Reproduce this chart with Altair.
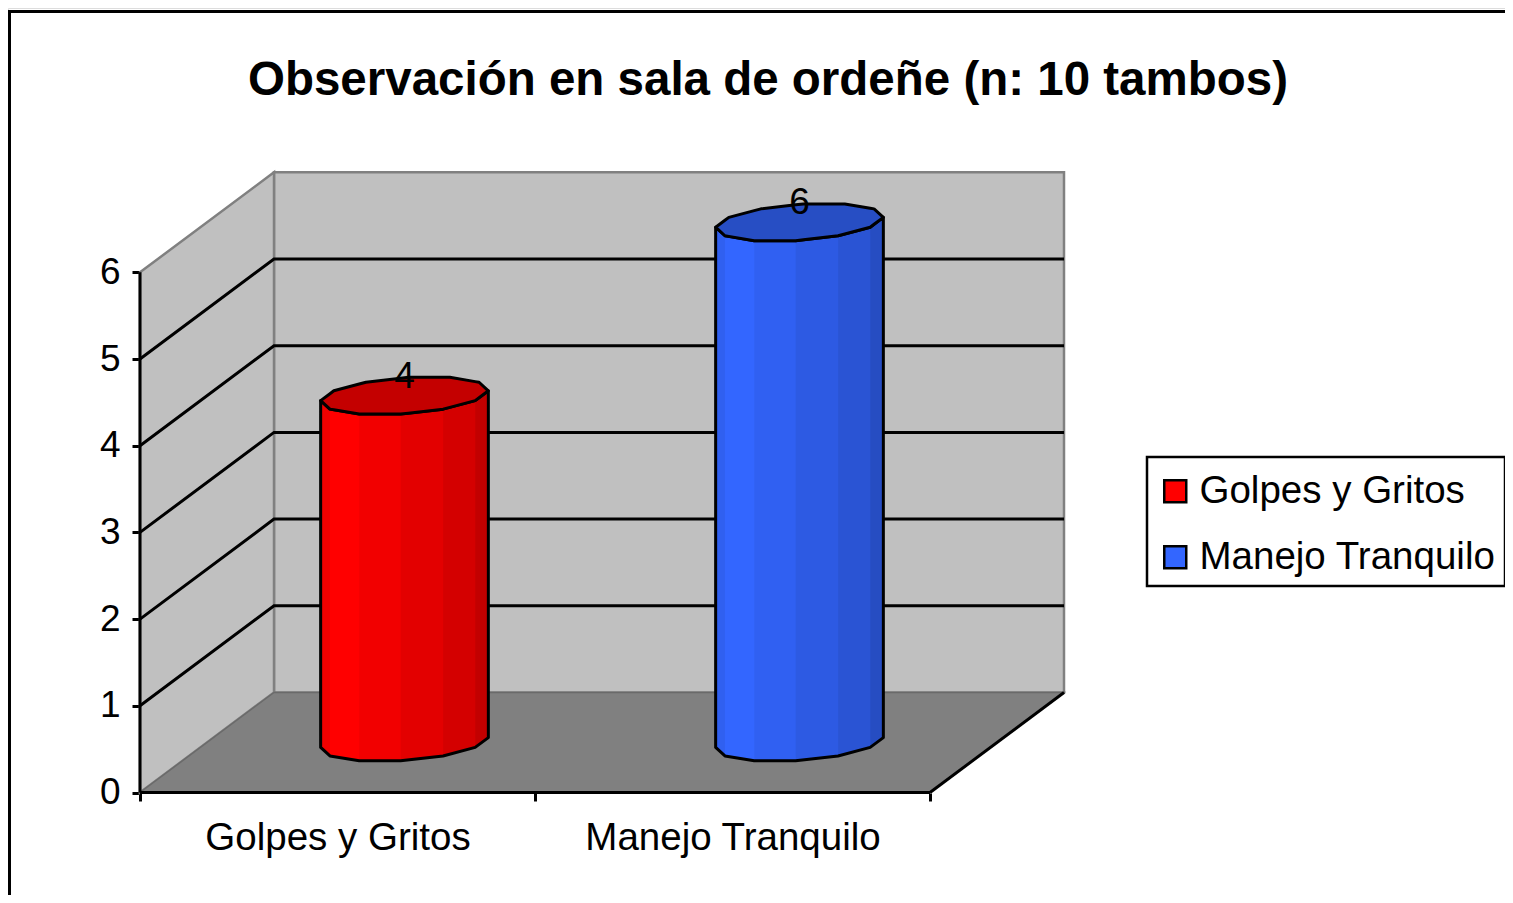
import math
import altair as alt
import numpy as np
import pandas as pd

# ---------------- data ----------------
categories = ["Golpes y Gritos", "Manejo Tranquilo"]
values = [4, 6]
bar_colors = ["#FF0000", "#3366FF"]
y_ticks = [0, 1, 2, 3, 4, 5, 6]
title_text = "Observación en sala de ordeñe (n: 10 tambos)"

# ---------------- layout / 3-D projection ----------------
FONT = "Liberation Sans"
W, H = 1497, 887                 # plot area (= whole canvas)
ORIGIN_X, ORIGIN_Y = 132.0, 784.5  # pixel of (category 0, value 0) on the front plane
CAT_PX = 395.0                   # pixels per category
UNIT_PX = 86.7                   # pixels per value unit
DX = 134.0 / CAT_PX              # depth offset in category units
DY = 100.0 / UNIT_PX             # depth offset in value units
Y_MAX = max(y_ticks)
N_CAT = len(categories)

x_scale = alt.Scale(domain=[-ORIGIN_X / CAT_PX, (W - ORIGIN_X) / CAT_PX], nice=False, zero=False)
y_scale = alt.Scale(domain=[(ORIGIN_Y - H) / UNIT_PX, ORIGIN_Y / UNIT_PX], nice=False, zero=False)

x_tick_vals = [i * 0.5 for i in range(2 * N_CAT + 1)]
label_expr = " : ".join(
    f"datum.value === {i + 0.5} ? '{c}'" for i, c in enumerate(categories)
) + " : ''"

x_axis = alt.Axis(
    values=x_tick_vals, orient="bottom", offset=ORIGIN_Y + 0.5 - H,
    domain=False, grid=False, tickSize=8, tickWidth=3, tickColor="black",
    tickOpacity={"condition": {"test": "datum.value % 1 === 0", "value": 1}, "value": 0},
    labelExpr=label_expr, labelFont=FONT, labelFontSize=38.5, labelColor="black",
    labelPadding=18, labelOverlap=False, labelFlush=False, labelLimit=600, title=None,
)
y_axis = alt.Axis(
    values=y_ticks, orient="left", offset=-ORIGIN_X,
    domain=False, grid=False, tickSize=8, tickWidth=3, tickColor="black",
    labelFont=FONT, labelFontSize=37, labelColor="black", labelPadding=12,
    labelOverlap=False, labelFlush=False, title=None,
)


def X(f):
    return alt.X(f"{f}:Q", scale=x_scale, axis=x_axis)


def Y(f):
    return alt.Y(f"{f}:Q", scale=y_scale, axis=y_axis, stack=None)


color_scale = alt.Scale(domain=categories, range=bar_colors)
legend = alt.Legend(
    title=" ", titleFontSize=2, titlePadding=4,
    orient="none", legendX=1139, legendY=449, direction="vertical",
    symbolType="square", symbolSize=484, symbolStrokeColor="black", symbolStrokeWidth=2.5,
    symbolOpacity=1, labelFont=FONT, labelFontSize=38.5, labelColor="black",
    labelOffset=5, labelLimit=600, rowPadding=27, padding=9,
    strokeColor="black", fillColor="white",
)

# ---------------- walls ----------------
back = pd.DataFrame({"x": [DX], "x2": [N_CAT + DX], "y": [DY], "y2": [Y_MAX + DY]})
side = pd.DataFrame({"x": [0.0, DX], "y": [Y_MAX, Y_MAX + DY], "y2": [0.0, DY]})
floor = pd.DataFrame({"y": [0.0, DY], "x": [0.0, DX], "x2": [float(N_CAT), N_CAT + DX]})

grid_rows = []
for k in y_ticks[1:-1]:
    for o, (c, d) in enumerate([(0.0, 0.0), (0.0, 1.0), (float(N_CAT), 1.0)]):
        grid_rows.append({"k": k, "o": o, "x": c + d * DX, "y": k + d * DY})
grid = pd.DataFrame(grid_rows)

edges = pd.DataFrame({
    "x": [0.0, 0.0, float(N_CAT)],
    "y": [0.0, 0.0, 0.0],
    "x2": [0.0, float(N_CAT), N_CAT + DX],
    "y2": [float(Y_MAX), 0.0, DY],
})

# ---------------- cylinders ----------------
A_R, B_R = 0.2025, 0.19
front_angles = [195, 225, 255, 285, 315, 345, 15]
back_angles = [195, 165, 135, 105, 75, 45, 15]
strip_shade = [0.06, 0.0, 0.05, 0.11, 0.17, 0.24]
TOP_SHADE = 0.23


def vert(i, th):
    t = math.radians(th)
    c = i + 0.5 + A_R * math.cos(t)
    d = 0.5 + B_R * math.sin(t)
    return c + d * DX, d * DY


body_rows, strip_rows, top_rows = [], [], []
for i, (cat, v) in enumerate(zip(categories, values)):
    fr = [vert(i, t) for t in front_angles]
    bk = [vert(i, t) for t in back_angles]
    for xx, yd in fr:
        body_rows.append({"category": cat, "x": xx, "y": v + yd, "y2": yd})
    for j in range(len(fr) - 1):
        for xx, yd in fr[j:j + 2]:
            strip_rows.append({"strip": f"{i}-{j}", "shade": strip_shade[j],
                               "x": xx, "y": v + yd, "y2": yd})
    fx = np.array([p[0] for p in fr]); fy = np.array([p[1] for p in fr])
    bx = np.array([p[0] for p in bk]); by = np.array([p[1] for p in bk])
    xs = np.unique(np.round(np.concatenate([fx, bx]), 9))
    up = np.interp(xs, bx, by)
    lo = np.interp(xs, fx, fy)
    for xx, u, l in zip(xs, up, lo):
        top_rows.append({"category": cat, "x": float(xx), "y": v + float(u), "y2": v + float(l)})

body = pd.DataFrame(body_rows)
strips = pd.DataFrame(strip_rows)
tops = pd.DataFrame(top_rows)

labels = pd.DataFrame({
    "x": [i + 0.5 + 0.5 * DX for i in range(N_CAT)],
    "y": [v + 0.5 * DY for v in values],
    "label": [str(v) for v in values],
})

# ---------------- layers ----------------
frame = alt.Chart(pd.DataFrame({"f": [0]})).mark_rect(
    fillOpacity=0, stroke="black", strokeWidth=3
).encode(x=alt.value(1.5), x2=alt.value(1560), y=alt.value(3.5), y2=alt.value(960))

back_l = alt.Chart(back).mark_rect(color="#C0C0C0", stroke="#808080", strokeWidth=2.5).encode(
    x=X("x"), x2="x2", y=Y("y"), y2="y2")
side_l = alt.Chart(side).mark_area(color="#C0C0C0", stroke="#808080", strokeWidth=2.5).encode(
    x=X("x"), y=Y("y"), y2="y2")
floor_l = alt.Chart(floor).mark_area(orient="horizontal", color="#808080", stroke="#6A6A6A",
                                     strokeWidth=1.5).encode(
    y=Y("y"), x=alt.X("x:Q", scale=x_scale, axis=x_axis, stack=None), x2="x2")
grid_l = alt.Chart(grid).mark_line(color="black", strokeWidth=3).encode(
    x=X("x"), y=Y("y"), detail="k:N", order="o:Q")
edge_l = alt.Chart(edges).mark_rule(color="black", strokeWidth=3).encode(
    x=X("x"), y=Y("y"), x2="x2", y2="y2")

body_fill = alt.Chart(body).mark_area(stroke="black", strokeWidth=3, strokeJoin="round").encode(
    x=X("x"), y=Y("y"), y2="y2",
    color=alt.Color("category:N", scale=color_scale, legend=legend))
body_shade = alt.Chart(strips).mark_area(color="black").encode(
    x=X("x"), y=Y("y"), y2="y2", detail="strip:N",
    opacity=alt.Opacity("shade:Q", scale=None))
top_fill = alt.Chart(tops).mark_area(stroke="black", strokeWidth=3, strokeJoin="round").encode(
    x=X("x"), y=Y("y"), y2="y2",
    color=alt.Color("category:N", scale=color_scale, legend=legend))
top_shade = alt.Chart(tops).mark_area(color="black", opacity=TOP_SHADE).encode(
    x=X("x"), y=Y("y"), y2="y2", detail="category:N")
label_l = alt.Chart(labels).mark_text(font=FONT, fontSize=37, color="black", align="center",
                                      baseline="alphabetic", dy=-8).encode(
    x=X("x"), y=Y("y"), text="label:N")

chart = alt.layer(
    frame, back_l, side_l, floor_l, grid_l, edge_l,
    body_fill, body_shade, top_fill, top_shade, label_l,
).properties(
    width=W, height=H, padding=0,
    autosize=alt.AutoSizeParams(type="none"),
    title=alt.TitleParams(title_text, font=FONT, fontSize=47.5, fontWeight="bold", color="black",
                          anchor="middle", frame="group", orient="top", offset=-134,
                          baseline="alphabetic", dx=11.5),
).configure_view(stroke=None).configure(background="white").configure_legend(strokeWidth=2.5)

chart.save("out.html", embed_options={"renderer": "svg", "actions": False})
